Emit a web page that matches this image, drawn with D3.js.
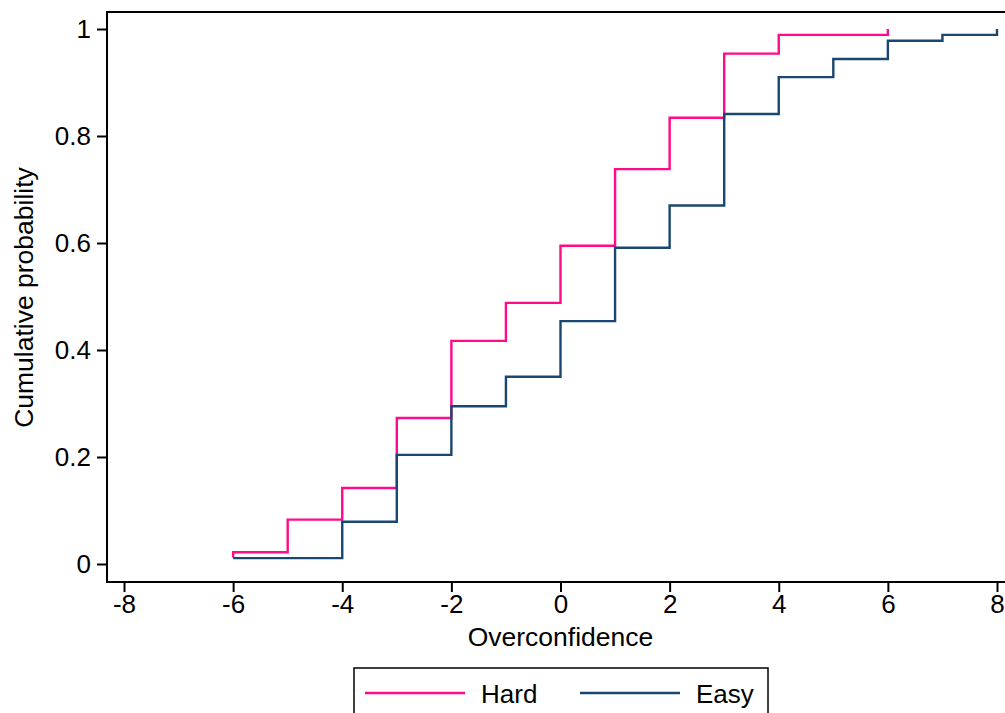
<!DOCTYPE html>
<html>
<head>
<meta charset="utf-8">
<script src="https://cdn.jsdelivr.net/npm/d3@7"></script>
<style>
  html, body { margin: 0; padding: 0; background: #fff; }
  svg { display: block; font-family: "Liberation Sans", Arial, sans-serif; }
</style>
</head>
<body>
<svg id="chart" width="1005" height="713"></svg>
<script>
// ---- Data ----
const hardX = [-6, -6, -5, -4, -3, -2, -1, 0, 1, 2, 3, 4, 6];
const hardY = [0.012, 0.022, 0.083, 0.142, 0.273, 0.417, 0.488, 0.595, 0.738, 0.834, 0.954, 0.989, 1.0];
const easyX = [-6, -4, -3, -2, -1, 0, 1, 2, 3, 4, 5, 6, 7, 8];
const easyY = [0.011, 0.079, 0.204, 0.295, 0.350, 0.454, 0.591, 0.670, 0.841, 0.910, 0.944, 0.978, 0.989, 1.0];
const xTicks = [-8, -6, -4, -2, 0, 2, 4, 6, 8];
const yTicks = [0, 0.2, 0.4, 0.6, 0.8, 1];
const seriesNames = ["Hard", "Easy"];
const seriesColors = ["#ff0a87", "#1a476f"];

const svg = d3.select("#chart");

const frame = { left: 107, top: 12, right: 1012, bottom: 582 };
const x = d3.scaleLinear().domain([-8, 8]).range([124, 997]);
const y = d3.scaleLinear().domain([0, 1]).range([564, 29]);

// frame
svg.append("rect")
  .attr("x", frame.left).attr("y", frame.top)
  .attr("width", frame.right - frame.left).attr("height", frame.bottom - frame.top)
  .attr("fill", "none").attr("stroke", "#000").attr("stroke-width", 2);

// axes
const fmtY = d => d === 0 ? "0" : d === 1 ? "1" : d3.format(".1f")(d);
const yAxis = svg.append("g").attr("transform", `translate(${frame.left},0)`)
  .call(d3.axisLeft(y).tickValues(yTicks).tickFormat(fmtY).tickSize(10).tickPadding(6));
const xAxis = svg.append("g").attr("transform", `translate(0,${frame.bottom})`)
  .call(d3.axisBottom(x).tickValues(xTicks).tickFormat(d3.format("d")).tickSize(10).tickPadding(3));

[yAxis, xAxis].forEach(g => {
  g.select(".domain").remove();
  g.selectAll(".tick line").attr("stroke", "#000").attr("stroke-width", 2);
  g.selectAll(".tick text").attr("fill", "#000").style("font-size", "26px")
    .style("font-family", "'Liberation Sans', Arial, sans-serif");
});
xAxis.selectAll(".tick text").text(d => d < 0 ? "-" + Math.abs(d) : String(d));

// axis titles
svg.append("text")
  .attr("x", (x(-8) + x(8)) / 2).attr("y", 646)
  .attr("text-anchor", "middle").style("font-size", "26.5px")
  .text("Overconfidence");
svg.append("text")
  .attr("transform", `translate(33,${y(0.5) + 1}) rotate(-90)`)
  .attr("text-anchor", "middle").style("font-size", "26.5px")
  .text("Cumulative probability");

// lines
const line = d3.line().x(d => x(d[0])).y(d => y(d[1])).curve(d3.curveStepAfter);
const series = [
  { name: seriesNames[0], color: seriesColors[0], pts: d3.zip(hardX, hardY) },
  { name: seriesNames[1], color: seriesColors[1], pts: d3.zip(easyX, easyY) }
];
svg.append("g").selectAll("path")
  .data(series)
  .join("path")
  .attr("d", d => line(d.pts))
  .attr("fill", "none")
  .attr("stroke", d => d.color)
  .attr("stroke-width", 2.4)
  .attr("stroke-linejoin", "miter");

// legend
const lg = svg.append("g");
lg.append("rect").attr("x", 354).attr("y", 668).attr("width", 414).attr("height", 60)
  .attr("fill", "#fff").attr("stroke", "#000").attr("stroke-width", 1.5);
const legendItems = [
  { name: seriesNames[0], color: seriesColors[0], x1: 365, x2: 465, tx: 481 },
  { name: seriesNames[1], color: seriesColors[1], x1: 580, x2: 680, tx: 696 }
];
legendItems.forEach(it => {
  lg.append("line").attr("x1", it.x1).attr("x2", it.x2).attr("y1", 693).attr("y2", 693)
    .attr("stroke", it.color).attr("stroke-width", 2.4);
  lg.append("text").attr("x", it.tx).attr("y", 703).style("font-size", "26px").text(it.name);
});
</script>
</body>
</html>
